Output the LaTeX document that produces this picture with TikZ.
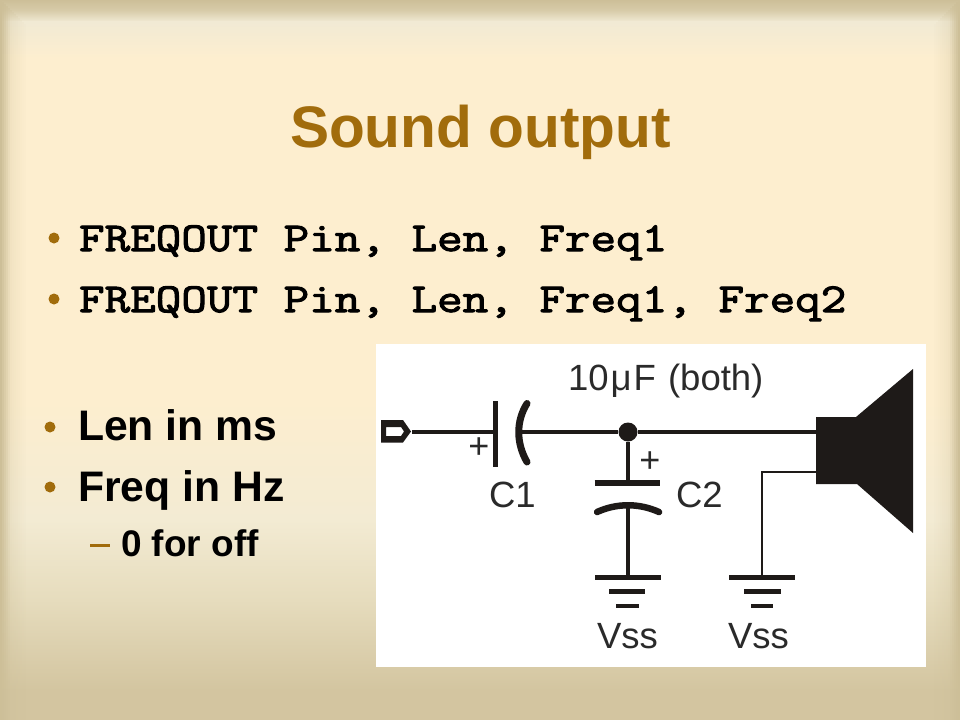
\documentclass[tikz,border=0pt]{standalone}
\usepackage{fontspec}
\setmainfont{Liberation Sans}
\newfontfamily\codefont[FakeBold=2.6,FakeStretch=1.21]{Latin Modern Mono}
\usetikzlibrary{calc}
\definecolor{edgetan}{HTML}{CDBF98}
\definecolor{midtan}{HTML}{F1EAD4}
\definecolor{cream}{HTML}{FDEECF}
\definecolor{lowA}{HTML}{F3EBD3}
\definecolor{lowB}{HTML}{E6DCBD}
\definecolor{lowC}{HTML}{D3C5A0}
\definecolor{gold}{HTML}{A16C0C}
\definecolor{ink}{HTML}{1E1A18}
\definecolor{labelink}{HTML}{2A2A2A}
\tikzset{
  x=1pt,y=-1pt,
  txt/.style={anchor=base west,inner sep=0pt,outer sep=0pt},
  titletxt/.style={txt,text=gold,font=\bfseries\fontsize{58.6}{60}\selectfont},
  codetxt/.style={txt,text=black,font=\codefont\fontsize{41.05}{44}\selectfont},
  bigtxt/.style={txt,text=black,font=\bfseries\fontsize{42.7}{45}\selectfont},
  subtxt/.style={txt,text=black,font=\bfseries\fontsize{37}{38}\selectfont},
  circtxt/.style={txt,text=labelink,font=\fontsize{36.5}{38}\selectfont},
  plustxt/.style={anchor=center,inner sep=0pt,outer sep=0pt,text=labelink,font=\fontsize{36}{36}\selectfont},
  bullet/.style={fill=gold,draw=none,circle,minimum size=11pt,inner sep=0pt},
  wire/.style={draw=ink,line width=3.6pt},
  thinwire/.style={draw=ink,line width=2.4pt},
  plate/.style={draw=ink,line width=6pt},
  curveplate/.style={draw=ink,line width=7pt,line cap=round},
  gndA/.style={draw=ink,line width=5pt},
  gndB/.style={draw=ink,line width=4.6pt},
  gndC/.style={draw=ink,line width=4pt},
}
\begin{document}
\begin{tikzpicture}
\useasboundingbox (0,0) rectangle (960,720);
% background
\fill[cream] (0,0) rectangle (960,720);
\shade[top color=edgetan,bottom color=edgetan!70!midtan] (0,0) rectangle (960,11);
\shade[top color=edgetan!70!midtan,bottom color=midtan] (0,10.5) rectangle (960,22);
\shade[top color=midtan,bottom color=cream] (0,21.5) rectangle (960,58);
\shade[top color=cream,bottom color=lowA] (0,400) rectangle (960,520);
\shade[top color=lowA,bottom color=lowB] (0,519.5) rectangle (960,600);
\shade[top color=lowB,bottom color=lowC] (0,599.5) rectangle (960,690);
\fill[lowC] (0,689.5) rectangle (960,720);
\foreach \i/\a in {0/1,2/.85,4/.7,6/.55,8/.38,10/.24,12/.2,14/.17,16/.14,18/.11,20/.08,22/.05,24/.03}{
  \fill[edgetan,opacity=\a] (\i,\i) rectangle (\i+2,720);
  \fill[edgetan,opacity=\a] (958-\i,\i) rectangle (960-\i,720);
}
% slide text
\node[titletxt] (title) at (290,147) {Sound output};
\node[bullet] (b1) at (54,238) {};
\node[bullet] (b2) at (54,299) {};
\node[codetxt] (code1) at (79,251) {FREQOUT Pin, Len, Freq1};
\node[codetxt] (code2) at (79,312) {FREQOUT Pin, Len, Freq1, Freq2};
\node[bullet] (b3) at (50,427) {};
\node[bullet] (b4) at (50,487) {};
\node[bigtxt] (len) at (78,440) {Len in ms};
\node[bigtxt] (freq) at (78,501) {Freq in Hz};
\fill[gold] (90,544) rectangle (110,546.5);
\node[subtxt] (off) at (121,556) {0 for off};
% circuit panel
\fill[white] (376,344) rectangle (926,667);
% named points
\coordinate (pinend) at (412,432);
\coordinate (c1a) at (495.5,432);
\coordinate (c1b) at (520,432);
\coordinate (spkin) at (817,432);
\coordinate (c2top) at (628,483);
\coordinate (c2bot) at (628,505);
\coordinate (g1) at (628,577);
\coordinate (spkgnd) at (817,472);
\coordinate (corner) at (762,472);
\coordinate (g2) at (762,577);
% pin
\fill[ink,even odd rule] (381,420) -- (403,420) -- (411,431.5) -- (403,442.5) -- (381,442.5) -- cycle
  (386,427) -- (401,427) -- (404,431.5) -- (401,436) -- (386,436) -- cycle;
% wires
\node[fill=ink,draw=none,circle,minimum size=19pt,inner sep=0pt] (junction) at (628,432) {};
\path[wire] (pinend) -- (c1a);
\path[wire] (c1b) -- (junction);
\path[wire] (junction) -- (spkin);
\path[wire] (junction) -- (c2top);
\path[wire] (c2bot) -- (g1);
\path[thinwire] (spkgnd) -- (corner) -- (g2);
% C1
\draw[draw=ink,line width=5pt] (495.5,401) -- (495.5,466.5);
\path[curveplate] (527,403.5) .. controls (516,421) and (516,443) .. (527,462);
% C2
\path[plate] (594.5,483) -- (660,483);
\path[curveplate,line width=6.5pt] (597,512) .. controls (617,503) and (639,503) .. (659,512);
% grounds
\path[gndA] (595,577) -- (661,577);
\path[gndB] (609,591.5) -- (645,591.5);
\path[gndC] (616,606) -- (639,606);
\path[gndA] (729,577) -- (795,577);
\path[gndB] (744,591.5) -- (781,591.5);
\path[gndC] (751,606) -- (773,606);
% speaker
\fill[ink] (816,417) -- (856,417) -- (913,369) -- (913,533) -- (857,484) -- (816,484) -- cycle;
% labels
\node[circtxt] (val) at (568,390) {10\kern2ptμ\kern2ptF\kern2pt{} (both)};
\node[circtxt] (c1l) at (489,507) {C1};
\node[circtxt] (c2l) at (676,507) {C2};
\node[plustxt] (p1) at (479,448) {+};
\node[plustxt] (p2) at (650,462) {+};
\node[circtxt] (v1) at (597,648) {Vss};
\node[circtxt] (v2) at (728,648) {Vss};
\end{tikzpicture}
\end{document}
